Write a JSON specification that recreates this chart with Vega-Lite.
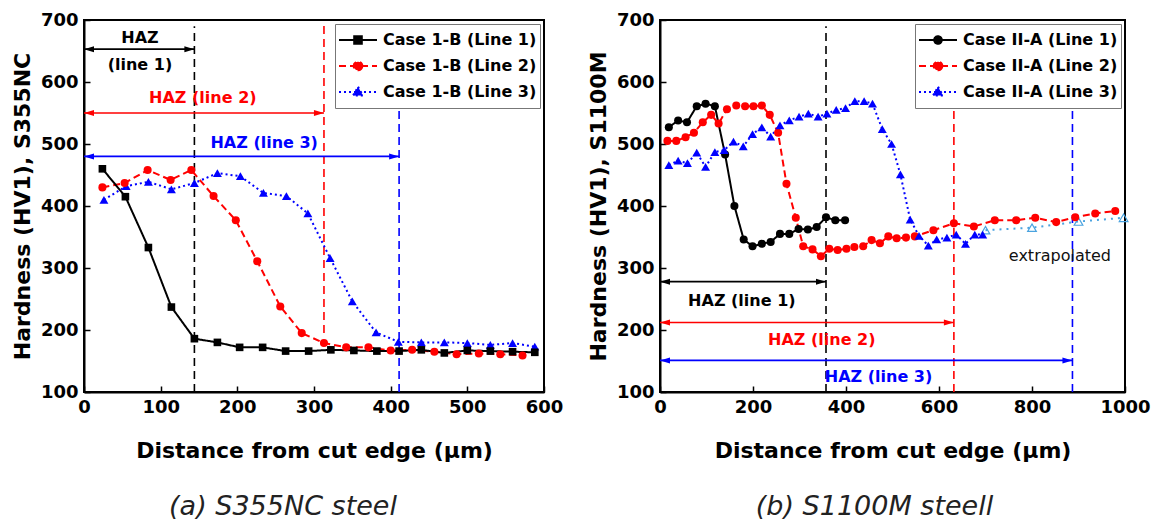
{
  "$schema": "https://vega.github.io/schema/vega-lite/v6.json",
  "padding": {"left": 10, "top": 10, "right": 0, "bottom": 0},
  "config": {
    "font": "DejaVu Sans",
    "view": {"stroke": "black", "strokeWidth": 2},
    "axis": {"labelFont": "DejaVu Sans", "labelFontWeight": "bold", "labelFontSize": 18, "labelColor": "black", "titleFont": "DejaVu Sans", "titleFontWeight": "bold", "titleFontSize": 22, "titleColor": "black", "domainColor": "black", "domainWidth": 2, "tickColor": "black", "tickWidth": 1.5, "tickSize": -6, "grid": false, "labelFlush": false, "labelPadding": 12, "titlePadding": 6, "format": "d"},
    "axisX": {"titlePadding": 24},
    "legend": {"orient": "top-right", "offset": 4, "fillColor": "white", "strokeColor": "#777777", "strokeWidth": 1, "padding": 3, "labelFont": "DejaVu Sans", "labelFontWeight": "bold", "labelFontSize": 16, "labelColor": "black", "symbolSize": 1444, "clipHeight": 26, "rowPadding": 0, "labelOffset": 5, "symbolStrokeWidth": 2, "symbolOpacity": 1, "labelLimit": 400, "symbolOffset": 0},
    "title": {"font": "DejaVu Sans", "fontSize": 27, "fontStyle": "italic", "fontWeight": "normal", "color": "#222222"}
  },
  "datasets": {
    "a_series": [
      {"series": "Case 1-B (Line 3)", "x": 26, "y": 410}, {"series": "Case 1-B (Line 3)", "x": 55, "y": 432}, {"series": "Case 1-B (Line 3)", "x": 84, "y": 439}, {"series": "Case 1-B (Line 3)", "x": 114, "y": 427}, {"series": "Case 1-B (Line 3)", "x": 144, "y": 437}, {"series": "Case 1-B (Line 3)", "x": 174, "y": 453}, {"series": "Case 1-B (Line 3)", "x": 204, "y": 448}, {"series": "Case 1-B (Line 3)", "x": 234, "y": 421}, {"series": "Case 1-B (Line 3)", "x": 264, "y": 416}, {"series": "Case 1-B (Line 3)", "x": 292, "y": 388}, {"series": "Case 1-B (Line 3)", "x": 321, "y": 316}, {"series": "Case 1-B (Line 3)", "x": 350, "y": 246}, {"series": "Case 1-B (Line 3)", "x": 381, "y": 196}, {"series": "Case 1-B (Line 3)", "x": 410, "y": 181}, {"series": "Case 1-B (Line 3)", "x": 440, "y": 180}, {"series": "Case 1-B (Line 3)", "x": 470, "y": 180}, {"series": "Case 1-B (Line 3)", "x": 500, "y": 179}, {"series": "Case 1-B (Line 3)", "x": 530, "y": 176}, {"series": "Case 1-B (Line 3)", "x": 559, "y": 179}, {"series": "Case 1-B (Line 3)", "x": 588, "y": 173},
      {"series": "Case 1-B (Line 2)", "x": 24, "y": 430}, {"series": "Case 1-B (Line 2)", "x": 53, "y": 437}, {"series": "Case 1-B (Line 2)", "x": 83, "y": 458}, {"series": "Case 1-B (Line 2)", "x": 113, "y": 442}, {"series": "Case 1-B (Line 2)", "x": 140, "y": 458}, {"series": "Case 1-B (Line 2)", "x": 169, "y": 416}, {"series": "Case 1-B (Line 2)", "x": 198, "y": 377}, {"series": "Case 1-B (Line 2)", "x": 226, "y": 311}, {"series": "Case 1-B (Line 2)", "x": 256, "y": 238}, {"series": "Case 1-B (Line 2)", "x": 284, "y": 195}, {"series": "Case 1-B (Line 2)", "x": 313, "y": 179}, {"series": "Case 1-B (Line 2)", "x": 342, "y": 172}, {"series": "Case 1-B (Line 2)", "x": 371, "y": 172}, {"series": "Case 1-B (Line 2)", "x": 400, "y": 167}, {"series": "Case 1-B (Line 2)", "x": 428, "y": 168}, {"series": "Case 1-B (Line 2)", "x": 457, "y": 165}, {"series": "Case 1-B (Line 2)", "x": 486, "y": 161}, {"series": "Case 1-B (Line 2)", "x": 515, "y": 162}, {"series": "Case 1-B (Line 2)", "x": 543, "y": 161}, {"series": "Case 1-B (Line 2)", "x": 572, "y": 159},
      {"series": "Case 1-B (Line 1)", "x": 24, "y": 460}, {"series": "Case 1-B (Line 1)", "x": 54, "y": 415}, {"series": "Case 1-B (Line 1)", "x": 84, "y": 333}, {"series": "Case 1-B (Line 1)", "x": 114, "y": 237}, {"series": "Case 1-B (Line 1)", "x": 144, "y": 186}, {"series": "Case 1-B (Line 1)", "x": 174, "y": 180}, {"series": "Case 1-B (Line 1)", "x": 203, "y": 172}, {"series": "Case 1-B (Line 1)", "x": 233, "y": 172}, {"series": "Case 1-B (Line 1)", "x": 263, "y": 166}, {"series": "Case 1-B (Line 1)", "x": 293, "y": 166}, {"series": "Case 1-B (Line 1)", "x": 322, "y": 168}, {"series": "Case 1-B (Line 1)", "x": 352, "y": 167}, {"series": "Case 1-B (Line 1)", "x": 382, "y": 166}, {"series": "Case 1-B (Line 1)", "x": 411, "y": 166}, {"series": "Case 1-B (Line 1)", "x": 440, "y": 168}, {"series": "Case 1-B (Line 1)", "x": 470, "y": 163}, {"series": "Case 1-B (Line 1)", "x": 500, "y": 167}, {"series": "Case 1-B (Line 1)", "x": 530, "y": 166}, {"series": "Case 1-B (Line 1)", "x": 559, "y": 165}, {"series": "Case 1-B (Line 1)", "x": 588, "y": 164}
    ],
    "a_vlines": [
      {"series": "Case 1-B (Line 1)", "x": 144, "y": 100, "y2": 690},
      {"series": "Case 1-B (Line 2)", "x": 313, "y": 195, "y2": 695},
      {"series": "Case 1-B (Line 3)", "x": 411, "y": 100, "y2": 558}
    ],
    "a_arrows": [
      {"series": "Case 1-B (Line 1)", "x": 0, "x2": 144, "y": 653},
      {"series": "Case 1-B (Line 2)", "x": 0, "x2": 313, "y": 550},
      {"series": "Case 1-B (Line 3)", "x": 0, "x2": 411, "y": 480}
    ],
    "a_labels": [
      {"series": "Case 1-B (Line 1)", "x": 73, "y": 671, "label": "HAZ"},
      {"series": "Case 1-B (Line 1)", "x": 73, "y": 627, "label": "(line 1)"},
      {"series": "Case 1-B (Line 2)", "x": 155, "y": 574, "label": "HAZ (line 2)"},
      {"series": "Case 1-B (Line 3)", "x": 235, "y": 501, "label": "HAZ (line 3)"}
    ],
    "b_series": [
      {"series": "Case II-A (Line 2)", "x": 16, "y": 505}, {"series": "Case II-A (Line 2)", "x": 35, "y": 505}, {"series": "Case II-A (Line 2)", "x": 55, "y": 511}, {"series": "Case II-A (Line 2)", "x": 73, "y": 518}, {"series": "Case II-A (Line 2)", "x": 92, "y": 535}, {"series": "Case II-A (Line 2)", "x": 110, "y": 547}, {"series": "Case II-A (Line 2)", "x": 126, "y": 533}, {"series": "Case II-A (Line 2)", "x": 144, "y": 556}, {"series": "Case II-A (Line 2)", "x": 164, "y": 562}, {"series": "Case II-A (Line 2)", "x": 183, "y": 561}, {"series": "Case II-A (Line 2)", "x": 201, "y": 561}, {"series": "Case II-A (Line 2)", "x": 219, "y": 562}, {"series": "Case II-A (Line 2)", "x": 236, "y": 547}, {"series": "Case II-A (Line 2)", "x": 254, "y": 518}, {"series": "Case II-A (Line 2)", "x": 272, "y": 436}, {"series": "Case II-A (Line 2)", "x": 292, "y": 381}, {"series": "Case II-A (Line 2)", "x": 308, "y": 335}, {"series": "Case II-A (Line 2)", "x": 328, "y": 330}, {"series": "Case II-A (Line 2)", "x": 346, "y": 319}, {"series": "Case II-A (Line 2)", "x": 364, "y": 331}, {"series": "Case II-A (Line 2)", "x": 382, "y": 329}, {"series": "Case II-A (Line 2)", "x": 401, "y": 331}, {"series": "Case II-A (Line 2)", "x": 418, "y": 334}, {"series": "Case II-A (Line 2)", "x": 437, "y": 335}, {"series": "Case II-A (Line 2)", "x": 455, "y": 345}, {"series": "Case II-A (Line 2)", "x": 473, "y": 340}, {"series": "Case II-A (Line 2)", "x": 491, "y": 351}, {"series": "Case II-A (Line 2)", "x": 509, "y": 348}, {"series": "Case II-A (Line 2)", "x": 529, "y": 349}, {"series": "Case II-A (Line 2)", "x": 548, "y": 351}, {"series": "Case II-A (Line 2)", "x": 588, "y": 361}, {"series": "Case II-A (Line 2)", "x": 632, "y": 372}, {"series": "Case II-A (Line 2)", "x": 675, "y": 367}, {"series": "Case II-A (Line 2)", "x": 720, "y": 377}, {"series": "Case II-A (Line 2)", "x": 766, "y": 377}, {"series": "Case II-A (Line 2)", "x": 807, "y": 381}, {"series": "Case II-A (Line 2)", "x": 852, "y": 374}, {"series": "Case II-A (Line 2)", "x": 893, "y": 382}, {"series": "Case II-A (Line 2)", "x": 936, "y": 388}, {"series": "Case II-A (Line 2)", "x": 979, "y": 392},
      {"series": "Case II-A (Line 3)", "x": 19, "y": 466}, {"series": "Case II-A (Line 3)", "x": 39, "y": 473}, {"series": "Case II-A (Line 3)", "x": 59, "y": 469}, {"series": "Case II-A (Line 3)", "x": 79, "y": 486}, {"series": "Case II-A (Line 3)", "x": 98, "y": 463}, {"series": "Case II-A (Line 3)", "x": 118, "y": 487}, {"series": "Case II-A (Line 3)", "x": 138, "y": 490}, {"series": "Case II-A (Line 3)", "x": 158, "y": 504}, {"series": "Case II-A (Line 3)", "x": 179, "y": 496}, {"series": "Case II-A (Line 3)", "x": 199, "y": 516}, {"series": "Case II-A (Line 3)", "x": 219, "y": 527}, {"series": "Case II-A (Line 3)", "x": 238, "y": 512}, {"series": "Case II-A (Line 3)", "x": 258, "y": 530}, {"series": "Case II-A (Line 3)", "x": 278, "y": 538}, {"series": "Case II-A (Line 3)", "x": 299, "y": 544}, {"series": "Case II-A (Line 3)", "x": 319, "y": 549}, {"series": "Case II-A (Line 3)", "x": 340, "y": 544}, {"series": "Case II-A (Line 3)", "x": 359, "y": 549}, {"series": "Case II-A (Line 3)", "x": 379, "y": 555}, {"series": "Case II-A (Line 3)", "x": 399, "y": 558}, {"series": "Case II-A (Line 3)", "x": 419, "y": 569}, {"series": "Case II-A (Line 3)", "x": 439, "y": 569}, {"series": "Case II-A (Line 3)", "x": 457, "y": 565}, {"series": "Case II-A (Line 3)", "x": 478, "y": 524}, {"series": "Case II-A (Line 3)", "x": 498, "y": 500}, {"series": "Case II-A (Line 3)", "x": 517, "y": 451}, {"series": "Case II-A (Line 3)", "x": 538, "y": 378}, {"series": "Case II-A (Line 3)", "x": 557, "y": 352}, {"series": "Case II-A (Line 3)", "x": 577, "y": 336}, {"series": "Case II-A (Line 3)", "x": 595, "y": 346}, {"series": "Case II-A (Line 3)", "x": 617, "y": 349}, {"series": "Case II-A (Line 3)", "x": 637, "y": 354}, {"series": "Case II-A (Line 3)", "x": 657, "y": 339}, {"series": "Case II-A (Line 3)", "x": 677, "y": 354}, {"series": "Case II-A (Line 3)", "x": 694, "y": 354},
      {"series": "Case II-A (Line 1)", "x": 19, "y": 527}, {"series": "Case II-A (Line 1)", "x": 39, "y": 538}, {"series": "Case II-A (Line 1)", "x": 58, "y": 535}, {"series": "Case II-A (Line 1)", "x": 79, "y": 561}, {"series": "Case II-A (Line 1)", "x": 98, "y": 565}, {"series": "Case II-A (Line 1)", "x": 118, "y": 561}, {"series": "Case II-A (Line 1)", "x": 140, "y": 483}, {"series": "Case II-A (Line 1)", "x": 160, "y": 400}, {"series": "Case II-A (Line 1)", "x": 180, "y": 346}, {"series": "Case II-A (Line 1)", "x": 199, "y": 335}, {"series": "Case II-A (Line 1)", "x": 219, "y": 339}, {"series": "Case II-A (Line 1)", "x": 238, "y": 342}, {"series": "Case II-A (Line 1)", "x": 258, "y": 355}, {"series": "Case II-A (Line 1)", "x": 278, "y": 355}, {"series": "Case II-A (Line 1)", "x": 298, "y": 363}, {"series": "Case II-A (Line 1)", "x": 318, "y": 362}, {"series": "Case II-A (Line 1)", "x": 337, "y": 366}, {"series": "Case II-A (Line 1)", "x": 357, "y": 382}, {"series": "Case II-A (Line 1)", "x": 377, "y": 377}, {"series": "Case II-A (Line 1)", "x": 398, "y": 377}
    ],
    "b_extrap": [
      {"x": 700, "y": 361}, {"x": 800, "y": 365}, {"x": 900, "y": 375}, {"x": 997, "y": 381}
    ],
    "b_vlines": [
      {"series": "Case II-A (Line 1)", "x": 357, "y": 100, "y2": 690},
      {"series": "Case II-A (Line 2)", "x": 632, "y": 100, "y2": 558},
      {"series": "Case II-A (Line 3)", "x": 887, "y": 100, "y2": 558}
    ],
    "b_arrows": [
      {"series": "Case II-A (Line 1)", "x": 0, "x2": 357, "y": 278},
      {"series": "Case II-A (Line 2)", "x": 0, "x2": 632, "y": 212},
      {"series": "Case II-A (Line 3)", "x": 0, "x2": 887, "y": 151}
    ],
    "b_labels": [
      {"series": "Case II-A (Line 1)", "x": 176, "y": 247, "label": "HAZ (line 1)"},
      {"series": "Case II-A (Line 2)", "x": 348, "y": 184, "label": "HAZ (line 2)"},
      {"series": "Case II-A (Line 3)", "x": 470, "y": 124, "label": "HAZ (line 3)"}
    ],
    "b_note": [
      {"x": 860, "y": 319, "label": "extrapolated"}
    ]
  },
  "hconcat": [
    {
      "width": 460,
      "height": 372,
      "title": {"text": "(a) S355NC steel", "orient": "bottom", "offset": 33, "dx": -31, "anchor": "middle"},
      "data": {"name": "a_series"},
      "encoding": {
        "x": {"field": "x", "type": "quantitative", "scale": {"domain": [0, 600], "nice": false, "zero": false}, "axis": {"values": [0, 100, 200, 300, 400, 500, 600], "title": "Distance from cut edge (μm)"}},
        "y": {"field": "y", "type": "quantitative", "scale": {"domain": [100, 700], "nice": false, "zero": false}, "axis": {"values": [100, 200, 300, 400, 500, 600, 700], "title": "Hardness (HV1), S355NC"}},
        "color": {"field": "series", "type": "nominal", "scale": {"domain": ["Case 1-B (Line 1)", "Case 1-B (Line 2)", "Case 1-B (Line 3)"], "range": ["#000000", "#ff0000", "#0000ff"]}, "legend": {"title": null}}
      },
      "layer": [
        {"data": {"name": "a_vlines"}, "mark": {"type": "rule", "strokeDash": [8, 5], "strokeWidth": 1.6}, "encoding": {"y2": {"field": "y2"}}},
        {"data": {"name": "a_arrows"}, "mark": {"type": "rule", "strokeWidth": 1.6}, "encoding": {"x2": {"field": "x2"}}},
        {"data": {"name": "a_arrows"}, "mark": {"type": "point", "shape": "M0,0L2,-0.6L2,0.6Z", "size": 100, "filled": true, "opacity": 1}},
        {"data": {"name": "a_arrows"}, "mark": {"type": "point", "shape": "M0,0L-2,-0.6L-2,0.6Z", "size": 100, "filled": true, "opacity": 1}, "encoding": {"x": {"field": "x2", "type": "quantitative", "scale": {"domain": [0, 600], "nice": false, "zero": false}, "title": "Distance from cut edge (μm)"}}},
        {"data": {"name": "a_labels"}, "mark": {"type": "text", "font": "DejaVu Sans", "fontWeight": "bold", "fontSize": 16}, "encoding": {"text": {"field": "label"}}},
        {"mark": {"type": "line", "strokeWidth": 2}, "encoding": {"strokeDash": {"field": "series", "type": "nominal", "scale": {"domain": ["Case 1-B (Line 1)", "Case 1-B (Line 2)", "Case 1-B (Line 3)"], "range": [[1, 0], [7, 4], [2, 3]]}, "legend": {"title": null}}}},
        {"transform": [{"filter": {"field": "series", "equal": "Case 1-B (Line 3)"}}], "mark": {"type": "point", "shape": "triangle-up", "filled": true, "size": 80, "opacity": 1}},
        {"transform": [{"filter": {"field": "series", "equal": "Case 1-B (Line 2)"}}], "mark": {"type": "point", "shape": "circle", "filled": true, "size": 65, "opacity": 1}},
        {"transform": [{"filter": {"field": "series", "equal": "Case 1-B (Line 1)"}}], "mark": {"type": "point", "shape": "square", "filled": true, "size": 58, "opacity": 1}},
        {"mark": {"type": "point", "filled": true, "opacity": 0, "size": 10},
          "encoding": {
            "fill": {"field": "series", "type": "nominal", "scale": {"domain": ["Case 1-B (Line 1)", "Case 1-B (Line 2)", "Case 1-B (Line 3)"], "range": ["#000000", "#ff0000", "#0000ff"]}, "legend": {"title": null}},
            "stroke": {"field": "series", "type": "nominal", "scale": {"domain": ["Case 1-B (Line 1)", "Case 1-B (Line 2)", "Case 1-B (Line 3)"], "range": ["#000000", "#ff0000", "#0000ff"]}, "legend": {"title": null}},
            "shape": {"field": "series", "type": "nominal", "scale": {"domain": ["Case 1-B (Line 1)", "Case 1-B (Line 2)", "Case 1-B (Line 3)"], "range": ["M-1,0H1M-0.2,-0.2H0.2V0.2H-0.2Z", "M-1,0H1M0.23,0A0.23,0.23,0,1,1,-0.23,0A0.23,0.23,0,1,1,0.23,0Z", "M-1,0H1M0,-0.27L0.26,0.18L-0.26,0.18Z"]}, "legend": {"title": null}},
            "strokeDash": {"field": "series", "type": "nominal", "scale": {"domain": ["Case 1-B (Line 1)", "Case 1-B (Line 2)", "Case 1-B (Line 3)"], "range": [[1, 0], [7, 4], [2, 3]]}, "legend": {"title": null}}
          }}
      ]
    },
    {
      "width": 465,
      "height": 372,
      "title": {"text": "(b) S1100M steell", "orient": "bottom", "offset": 33, "dx": -18, "anchor": "middle"},
      "data": {"name": "b_series"},
      "encoding": {
        "x": {"field": "x", "type": "quantitative", "scale": {"domain": [0, 1000], "nice": false, "zero": false}, "axis": {"values": [0, 200, 400, 600, 800, 1000], "title": "Distance from cut edge (μm)"}},
        "y": {"field": "y", "type": "quantitative", "scale": {"domain": [100, 700], "nice": false, "zero": false}, "axis": {"values": [100, 200, 300, 400, 500, 600, 700], "title": "Hardness (HV1), S1100M"}},
        "color": {"field": "series", "type": "nominal", "scale": {"domain": ["Case II-A (Line 1)", "Case II-A (Line 2)", "Case II-A (Line 3)"], "range": ["#000000", "#ff0000", "#0000ff"]}, "legend": {"title": null}}
      },
      "layer": [
        {"data": {"name": "b_vlines"}, "mark": {"type": "rule", "strokeDash": [8, 5], "strokeWidth": 1.6}, "encoding": {"y2": {"field": "y2"}}},
        {"data": {"name": "b_arrows"}, "mark": {"type": "rule", "strokeWidth": 1.6}, "encoding": {"x2": {"field": "x2"}}},
        {"data": {"name": "b_arrows"}, "mark": {"type": "point", "shape": "M0,0L2,-0.6L2,0.6Z", "size": 100, "filled": true, "opacity": 1}},
        {"data": {"name": "b_arrows"}, "mark": {"type": "point", "shape": "M0,0L-2,-0.6L-2,0.6Z", "size": 100, "filled": true, "opacity": 1}, "encoding": {"x": {"field": "x2", "type": "quantitative", "scale": {"domain": [0, 1000], "nice": false, "zero": false}, "title": "Distance from cut edge (μm)"}}},
        {"data": {"name": "b_labels"}, "mark": {"type": "text", "font": "DejaVu Sans", "fontWeight": "bold", "fontSize": 16}, "encoding": {"text": {"field": "label"}}},
        {"data": {"name": "b_note"}, "mark": {"type": "text", "font": "DejaVu Sans", "fontWeight": "normal", "fontSize": 16}, "encoding": {"text": {"field": "label"}, "color": {"value": "#111111"}}},
        {"data": {"name": "b_extrap"}, "mark": {"type": "line", "strokeWidth": 2, "strokeDash": [2, 5]}, "encoding": {"color": {"value": "#4aa3df"}}},
        {"data": {"name": "b_extrap"}, "mark": {"type": "point", "shape": "triangle-up", "filled": false, "size": 75, "strokeWidth": 1.2, "opacity": 1}, "encoding": {"color": {"value": "#4aa3df"}}},
        {"mark": {"type": "line", "strokeWidth": 2}, "encoding": {"strokeDash": {"field": "series", "type": "nominal", "scale": {"domain": ["Case II-A (Line 1)", "Case II-A (Line 2)", "Case II-A (Line 3)"], "range": [[1, 0], [7, 4], [2, 3]]}, "legend": {"title": null}}}},
        {"transform": [{"filter": {"field": "series", "oneOf": ["Case II-A (Line 1)", "Case II-A (Line 2)"]}}], "mark": {"type": "point", "shape": "circle", "filled": true, "size": 65, "opacity": 1}},
        {"transform": [{"filter": {"field": "series", "equal": "Case II-A (Line 3)"}}], "mark": {"type": "point", "shape": "triangle-up", "filled": true, "size": 80, "opacity": 1}},
        {"mark": {"type": "point", "filled": true, "opacity": 0, "size": 10},
          "encoding": {
            "fill": {"field": "series", "type": "nominal", "scale": {"domain": ["Case II-A (Line 1)", "Case II-A (Line 2)", "Case II-A (Line 3)"], "range": ["#000000", "#ff0000", "#0000ff"]}, "legend": {"title": null}},
            "stroke": {"field": "series", "type": "nominal", "scale": {"domain": ["Case II-A (Line 1)", "Case II-A (Line 2)", "Case II-A (Line 3)"], "range": ["#000000", "#ff0000", "#0000ff"]}, "legend": {"title": null}},
            "shape": {"field": "series", "type": "nominal", "scale": {"domain": ["Case II-A (Line 1)", "Case II-A (Line 2)", "Case II-A (Line 3)"], "range": ["M-1,0H1M0.2,0A0.2,0.2,0,1,1,-0.2,0A0.2,0.2,0,1,1,0.2,0Z", "M-1,0H1M0.23,0A0.23,0.23,0,1,1,-0.23,0A0.23,0.23,0,1,1,0.23,0Z", "M-1,0H1M0,-0.27L0.26,0.18L-0.26,0.18Z"]}, "legend": {"title": null}},
            "strokeDash": {"field": "series", "type": "nominal", "scale": {"domain": ["Case II-A (Line 1)", "Case II-A (Line 2)", "Case II-A (Line 3)"], "range": [[1, 0], [7, 4], [2, 3]]}, "legend": {"title": null}}
          }}
      ]
    }
  ],
  "spacing": 22,
  "resolve": {"scale": {"x": "independent", "y": "independent", "color": "independent", "fill": "independent", "stroke": "independent", "shape": "independent", "strokeDash": "independent"}, "legend": {"color": "independent", "fill": "independent", "stroke": "independent", "shape": "independent", "strokeDash": "independent"}, "axis": {"x": "independent", "y": "independent"}}
}
